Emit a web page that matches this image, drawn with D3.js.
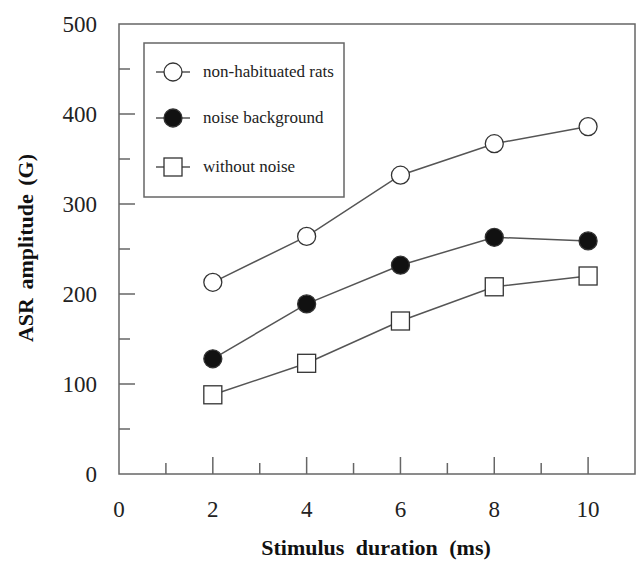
<!DOCTYPE html>
<html>
<head>
<meta charset="utf-8">
<script src="https://cdn.jsdelivr.net/npm/d3@7"></script>
<style>
  body { margin: 0; background: #fff; }
  svg text { font-family: "Liberation Serif", "DejaVu Serif", serif; }
</style>
</head>
<body>
<div id="chart"></div>
<script>
// stimulus durations (ms)
var durations = [2, 4, 6, 8, 10];
// ASR amplitude per condition
var nonHabituated = [213, 264, 332, 367, 386];
var noiseBackground = [128, 189, 232, 263, 259];
var withoutNoise = [88, 123, 170, 208, 220];
var seriesNames = ["non-habituated rats", "noise background", "without noise"];
var xTickLabels = [0, 2, 4, 6, 8, 10];
var yTickLabels = [0, 100, 200, 300, 400, 500];

(function () {
    var width = 641, height = 563;
    var left = 119, right = 635, top = 24, bottom = 474;
    var serif = "'Liberation Serif', 'DejaVu Serif', serif";

    var svg = d3.select("#chart").append("svg")
        .attr("width", width)
        .attr("height", height);

    var x = d3.scaleLinear().domain([0, 11]).range([left, right]);
    var y = d3.scaleLinear().domain([0, 500]).range([bottom, top]);

    var frameColor = "#666";

    // frame
    svg.append("rect")
        .attr("x", left).attr("y", top)
        .attr("width", right - left).attr("height", bottom - top)
        .attr("fill", "none")
        .attr("stroke", frameColor)
        .attr("stroke-width", 1.5);

    // x ticks (inward)
    var xt = d3.range(1, 11);
    svg.append("g").selectAll("line")
        .data(xt)
        .join("line")
        .attr("x1", d => x(d)).attr("x2", d => x(d))
        .attr("y1", bottom)
        .attr("y2", d => bottom - (d % 2 === 0 ? 17 : 11))
        .attr("stroke", frameColor)
        .attr("stroke-width", 1.5);

    svg.append("g").selectAll("text")
        .data(xTickLabels)
        .join("text")
        .attr("x", d => x(d))
        .attr("y", 517)
        .attr("text-anchor", "middle")
        .attr("font-family", serif)
        .attr("font-size", 23)
        .attr("fill", "#222")
        .text(d => d);

    // y ticks (inward)
    var yt = d3.range(50, 500, 50);
    svg.append("g").selectAll("line")
        .data(yt)
        .join("line")
        .attr("x1", left)
        .attr("x2", d => left + (d % 100 === 0 ? 16 : 11))
        .attr("y1", d => y(d)).attr("y2", d => y(d))
        .attr("stroke", frameColor)
        .attr("stroke-width", 1.5);

    svg.append("g").selectAll("text")
        .data(yTickLabels)
        .join("text")
        .attr("x", 97)
        .attr("y", d => y(d))
        .attr("dy", "0.35em")
        .attr("text-anchor", "end")
        .attr("font-family", serif)
        .attr("font-size", 23)
        .attr("fill", "#222")
        .text(d => d);

    // axis titles
    svg.append("text")
        .attr("x", 376)
        .attr("y", 555)
        .attr("text-anchor", "middle")
        .attr("font-family", serif)
        .attr("font-size", 22)
        .attr("font-weight", "bold")
        .attr("fill", "#111")
        .style("word-spacing", "6px")
        .text("Stimulus duration (ms)");

    svg.append("text")
        .attr("transform", "translate(25,248) rotate(-90)")
        .attr("dy", "0.35em")
        .attr("text-anchor", "middle")
        .attr("font-family", serif)
        .attr("font-size", 22)
        .attr("font-weight", "bold")
        .attr("fill", "#111")
        .style("word-spacing", "3px")
        .text("ASR amplitude (G)");

    var series = [
        { name: seriesNames[0], values: nonHabituated, shape: "circle", fill: "#fff" },
        { name: seriesNames[1], values: noiseBackground, shape: "circle", fill: "#111" },
        { name: seriesNames[2], values: withoutNoise, shape: "square", fill: "#fff" }
    ];

    var line = d3.line()
        .x(d => x(d[0]))
        .y(d => y(d[1]));

    function drawMarker(g, s, cx, cy) {
        if (s.shape === "circle") {
            g.append("circle")
                .attr("cx", cx).attr("cy", cy).attr("r", 9)
                .attr("fill", s.fill)
                .attr("stroke", "#333")
                .attr("stroke-width", 1.3);
        } else {
            g.append("rect")
                .attr("x", cx - 9).attr("y", cy - 9)
                .attr("width", 18).attr("height", 18)
                .attr("fill", s.fill)
                .attr("stroke", "#333")
                .attr("stroke-width", 1.3);
        }
    }

    series.forEach(function (s) {
        var pts = durations.map((d, i) => [d, s.values[i]]);
        svg.append("path")
            .attr("d", line(pts))
            .attr("fill", "none")
            .attr("stroke", "#555")
            .attr("stroke-width", 1.5);
        var g = svg.append("g");
        pts.forEach(p => drawMarker(g, s, x(p[0]), y(p[1])));
    });

    // legend
    var lg = svg.append("g");
    lg.append("rect")
        .attr("x", 144).attr("y", 43)
        .attr("width", 200).attr("height", 154)
        .attr("fill", "#fff")
        .attr("stroke", frameColor)
        .attr("stroke-width", 1.5);

    var legendY = [72, 118, 167];
    series.forEach(function (s, i) {
        var ly = legendY[i];
        lg.append("line")
            .attr("x1", 156).attr("x2", 190)
            .attr("y1", ly).attr("y2", ly)
            .attr("stroke", "#555")
            .attr("stroke-width", 1.5);
        drawMarker(lg, s, 173, ly);
        lg.append("text")
            .attr("x", 203).attr("y", ly)
            .attr("dy", "0.3em")
            .attr("font-family", serif)
            .attr("font-size", 17)
            .attr("fill", "#222")
            .text(s.name);
    });
})();
</script>
</body>
</html>
